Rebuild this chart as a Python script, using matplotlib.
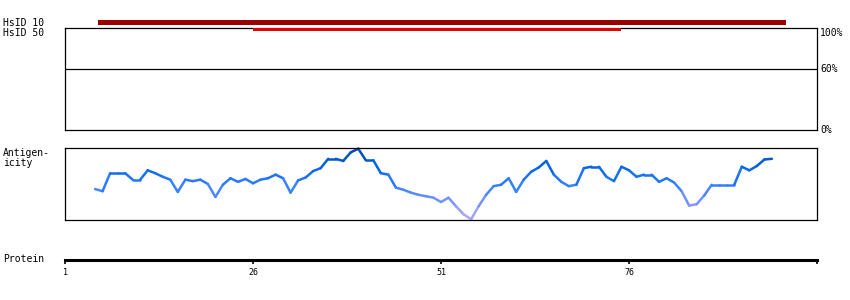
import numpy as np
import matplotlib
matplotlib.use("Agg")
import matplotlib.pyplot as plt
from matplotlib.collections import LineCollection
from matplotlib.colors import LinearSegmentedColormap
import matplotlib.transforms as mtransforms

# ---------------- data ----------------
protein_length = 101
protein_ticks = [1, 26, 51, 76, 101]
protein_ticklabels = ["1", "26", "51", "76", ""]

track_names = ["HsID 10", "HsID 50"]
track_starts = [5.4, 26.0]
track_ends = [96.9, 75.0]
track_colors = ["#990000", "#e00000"]

identity_ticks = [0, 60, 100]
identity_labels = ["0%", "60%", "100%"]

antigen_residues = list(range(5, 96))
antigen_values = [
    0.43, 0.40, 0.65, 0.65, 0.65, 0.56, 0.56, 0.69, 0.65, 0.60,   # 5-14
    0.56, 0.39, 0.56, 0.54, 0.56, 0.50, 0.32, 0.49, 0.58, 0.53,   # 15-24
    0.57, 0.51, 0.56, 0.58, 0.63, 0.58, 0.38, 0.55, 0.59, 0.68,   # 25-34
    0.72, 0.85, 0.85, 0.82, 0.94, 0.99, 0.83, 0.83, 0.65, 0.63,   # 35-44
    0.45, 0.42, 0.38, 0.35, 0.33, 0.31, 0.25, 0.31, 0.19, 0.08,   # 45-54
    0.01, 0.19, 0.35, 0.47, 0.49, 0.58, 0.39, 0.56, 0.67, 0.73,   # 55-64
    0.82, 0.63, 0.53, 0.47, 0.49, 0.72, 0.74, 0.74, 0.60, 0.54,   # 65-74
    0.74, 0.69, 0.60, 0.63, 0.63, 0.53, 0.58, 0.52, 0.40, 0.20,   # 75-84
    0.22, 0.34, 0.49, 0.49, 0.49, 0.49, 0.74, 0.69, 0.75, 0.84,   # 85-94
    0.85,                                                         # 95
]

# ---------------- layout helpers ----------------
W, H = 850, 300
fig = plt.figure(figsize=(W / 100, H / 100), dpi=100)
fig.patch.set_facecolor("white")


def rect(x0, y0, x1, y1):
    return [x0 / W, 1 - y1 / H, (x1 - x0) / W, (y1 - y0) / H]


MONO = "DejaVu Sans Mono"
FS = 7
LX = 3 / W

# ---------------- identity panel ----------------
ax_id = fig.add_axes(rect(65, 28, 817, 130))
ax_id.set_xlim(1, protein_length)
ax_id.set_ylim(0, 100)
ax_id.axhline(60, color="black", lw=0.9)
for s in ax_id.spines.values():
    s.set_linewidth(0.9)
ax_id.set_xticks([])
ax_id.set_yticks([])
trans_r = mtransforms.blended_transform_factory(ax_id.transAxes, ax_id.transData)
for v, lab in zip(identity_ticks, identity_labels):
    ax_id.text(1.004, v, lab, transform=trans_r, ha="left",
               va="top" if v == 100 else "center",
               fontsize=FS, family=MONO, color="black")

# ---------------- tracks (bars) ----------------
ax_tr = fig.add_axes(rect(65, 15, 817, 35))
ax_tr.set_xlim(1, protein_length)
ax_tr.set_ylim(35, 15)
ax_tr.axis("off")
track_y = [22.5, 29.5]
track_h = [5, 3]
for y, hgt, s, e, c in zip(track_y, track_h, track_starts, track_ends, track_colors):
    ax_tr.barh(y, e - s, left=s, height=hgt, color=c, linewidth=0)

fig.text(LX, 1 - 22.5 / H, track_names[0], ha="left", va="center",
         fontsize=FS, family=MONO)
fig.text(LX, 1 - 32.5 / H, track_names[1], ha="left", va="center",
         fontsize=FS, family=MONO)

# ---------------- antigenicity panel ----------------
ax_ag = fig.add_axes(rect(65, 148, 817, 220))
ax_ag.set_xlim(1, protein_length)
ax_ag.set_ylim(0, 1)
for s in ax_ag.spines.values():
    s.set_linewidth(0.9)
ax_ag.set_xticks([])
ax_ag.set_yticks([])

cmap = LinearSegmentedColormap.from_list(
    "ag",
    [(0.0, "#b8a8ff"), (0.2, "#8c98ff"), (0.35, "#5a8cff"),
     (0.5, "#2f7fff"), (0.7, "#0a6ae8"), (0.85, "#0058c8"), (1.0, "#0048b0")],
)
xs = np.array(antigen_residues, dtype=float)
ys = np.array(antigen_values, dtype=float)
pts = np.column_stack([xs, ys]).reshape(-1, 1, 2)
segs = np.concatenate([pts[:-1], pts[1:]], axis=1)
seg_vals = (ys[:-1] + ys[1:]) / 2
lc = LineCollection(segs, colors=cmap(seg_vals), linewidths=1.8,
                    capstyle="round", joinstyle="round", clip_on=False)
ax_ag.add_collection(lc)

fig.text(LX, 1 - 148 / H, "Antigen-\nicity", ha="left", va="top",
         fontsize=FS, family=MONO, linespacing=1.05)

# ---------------- protein axis ----------------
ax_p = fig.add_axes(rect(65, 250, 817, 260))
ax_p.set_xlim(1, protein_length)
ax_p.set_ylim(0, 1)
ax_p.patch.set_alpha(0)
for k in ["top", "left", "right"]:
    ax_p.spines[k].set_visible(False)
ax_p.spines["bottom"].set_linewidth(2.2)
ax_p.set_yticks([])
ax_p.set_xticks(protein_ticks)
ax_p.set_xticklabels(protein_ticklabels, family=MONO, fontsize=6)
ax_p.tick_params(axis="x", direction="out", length=3.0, width=1.2, pad=2.5)
fig.text(LX, 1 - 259.5 / H, "Protein", ha="left", va="center",
         fontsize=FS, family=MONO)

fig.savefig("out.png", dpi=100, facecolor="white")
